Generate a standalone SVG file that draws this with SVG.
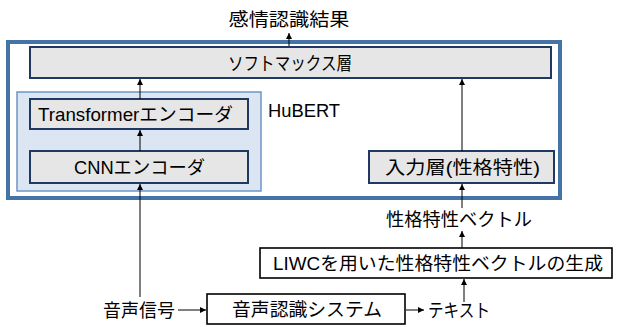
<svg xmlns="http://www.w3.org/2000/svg" width="621" height="327" viewBox="0 0 621 327">
<defs>
<marker id="ah" viewBox="0 0 6 6" refX="6" refY="3" markerWidth="6" markerHeight="6" markerUnits="userSpaceOnUse" orient="auto">
<path d="M0,0 L6,3 L0,6 z" fill="#000"/>
</marker>
<style>
text{font-family:"Liberation Sans","Noto Sans CJK JP",sans-serif;fill:#000;font-size:18.5px}
.gray{fill:#e6e6e6;stroke:#1f3864;stroke-width:2}
.plain{fill:#fff;stroke:#000;stroke-width:1.6}
.c{stroke:#000;stroke-width:1;fill:none;marker-end:url(#ah)}
</style>
</defs>
<g id="hubert-outer">
<rect x="8" y="42" width="552" height="156" fill="#fff" stroke="#4673a5" stroke-width="4"/>
</g>
<g id="softmax">
<rect class="gray" x="30" y="47" width="521" height="31"/>
<text x="290" y="70" text-anchor="middle" textLength="124" lengthAdjust="spacingAndGlyphs">ソフトマックス層</text>
</g>
<g id="hubert-inner">
<rect x="17" y="92" width="244" height="99" fill="#dce6f2" stroke="#6f95c4" stroke-width="1.5"/>
<text x="268" y="117" textLength="72" lengthAdjust="spacingAndGlyphs" font-size="17">HuBERT</text>
</g>
<g id="transformer">
<rect class="gray" x="30" y="99" width="218" height="30"/>
<text x="38" y="121" textLength="195" lengthAdjust="spacingAndGlyphs">Transformerエンコーダ</text>
</g>
<g id="cnn">
<rect class="gray" x="30" y="151" width="218" height="32"/>
<text x="74" y="174" textLength="131" lengthAdjust="spacingAndGlyphs">CNNエンコーダ</text>
</g>
<g id="input-layer">
<rect class="gray" x="369" y="151" width="185" height="32"/>
<text x="385" y="174" textLength="155" lengthAdjust="spacingAndGlyphs">入力層(性格特性)</text>
</g>
<g id="result">
<text x="289" y="26" text-anchor="middle" textLength="121" lengthAdjust="spacingAndGlyphs" font-size="19.5">感情認識結果</text>
</g>
<g id="vector">
<text x="386" y="226" textLength="146" lengthAdjust="spacingAndGlyphs">性格特性ベクトル</text>
</g>
<g id="liwc">
<rect class="plain" x="260" y="248" width="352" height="30"/>
<text x="273" y="270" textLength="330" lengthAdjust="spacingAndGlyphs">LIWCを用いた性格特性ベクトルの生成</text>
</g>
<g id="speech">
<text x="103" y="317" textLength="72" lengthAdjust="spacingAndGlyphs">音声信号</text>
</g>
<g id="asr">
<rect class="plain" x="207" y="294" width="198" height="30"/>
<text x="232" y="316" textLength="150" lengthAdjust="spacingAndGlyphs">音声認識システム</text>
</g>
<g id="text-out">
<text x="428" y="317" textLength="62" lengthAdjust="spacingAndGlyphs">テキスト</text>
</g>
<g id="connectors">
<line class="c" x1="289" y1="46" x2="289" y2="33"/>
<line class="c" x1="140" y1="99" x2="140" y2="79"/>
<line class="c" x1="140" y1="151" x2="140" y2="130"/>
<line class="c" x1="140" y1="297" x2="140" y2="184"/>
<line class="c" x1="462" y1="151" x2="462" y2="79"/>
<line class="c" x1="462" y1="208" x2="462" y2="184"/>
<line class="c" x1="462" y1="248" x2="462" y2="231"/>
<line class="c" x1="464" y1="302" x2="464" y2="279"/>
<line class="c" x1="178" y1="310" x2="206" y2="310"/>
<line class="c" x1="406" y1="310" x2="424" y2="310"/>
</g>
</svg>
